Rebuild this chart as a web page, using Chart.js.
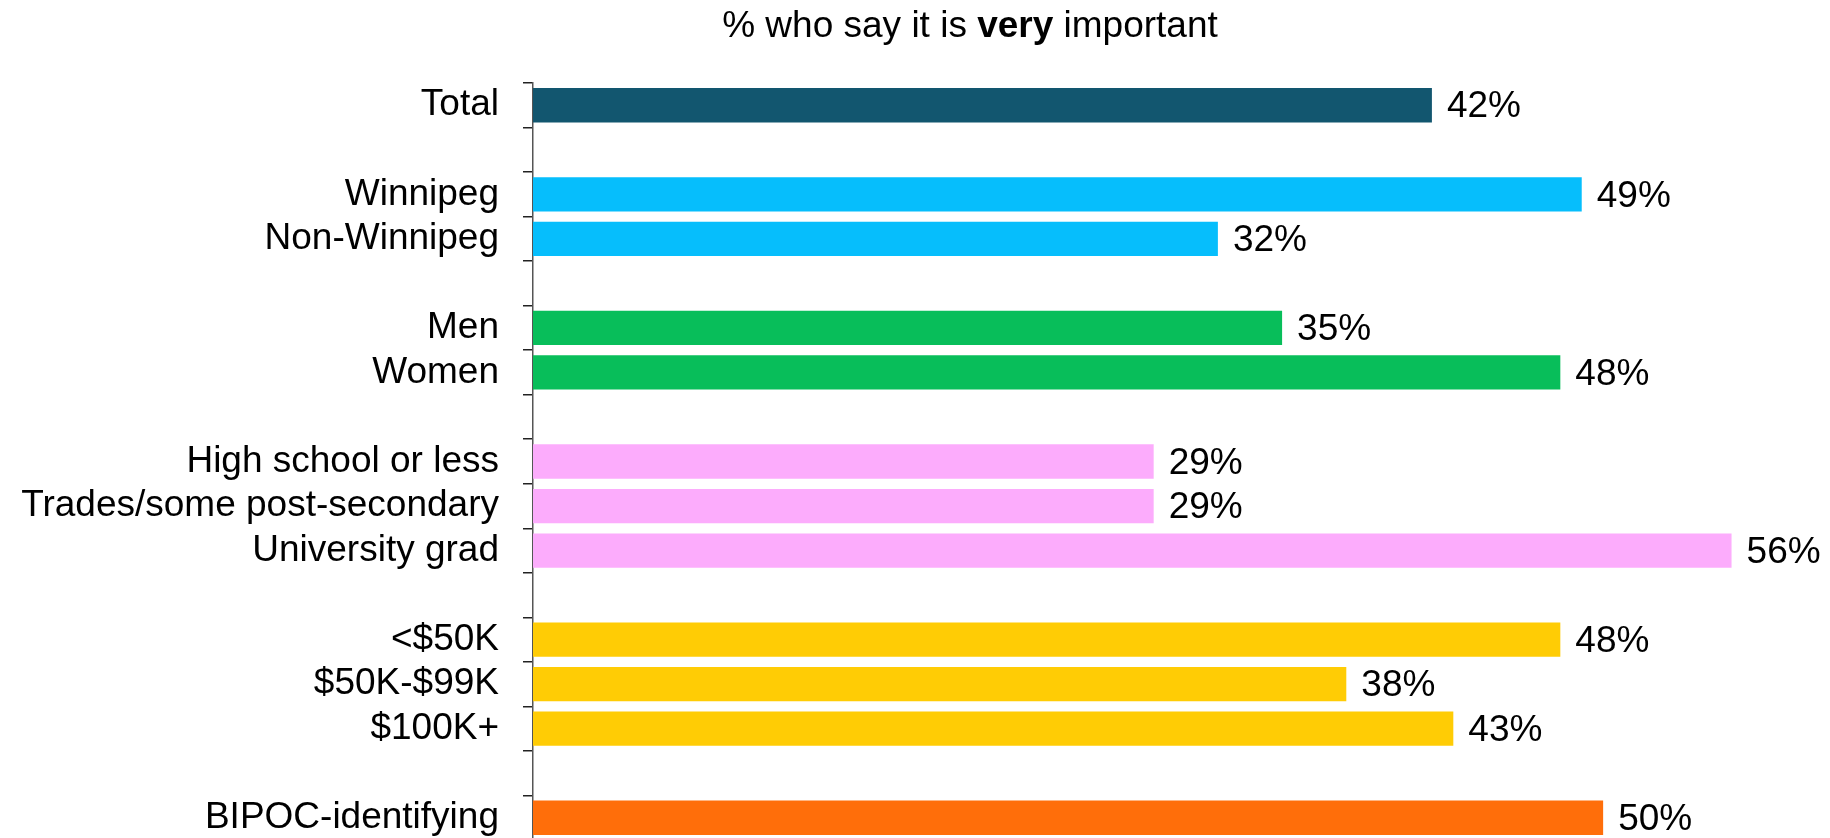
<!DOCTYPE html>
<html>
<head>
<meta charset="utf-8">
<script src="https://cdn.jsdelivr.net/npm/chart.js@4"></script>
<style>
  html, body { margin: 0; padding: 0; background: #fff; overflow: hidden; }
  #wrap { width: 1830px; height: 840px; position: relative; }
</style>
</head>
<body>
<div id="wrap"><canvas id="c"></canvas></div>
<script>
const categories = ['Total', '', 'Winnipeg', 'Non-Winnipeg', '', 'Men', 'Women', '',
  'High school or less', 'Trades/some post-secondary', 'University grad', '',
  '<$50K', '$50K-$99K', '$100K+', '', 'BIPOC-identifying'];
const values = [42, null, 49, 32, null, 35, 48, null, 29, 29, 56, null, 48, 38, 43, null, 50];
const groupOf = [0, null, 1, 1, null, 2, 2, null, 3, 3, 3, null, 4, 4, 4, null, 5];
const groupColors = ['#12566F', '#06BEFC', '#08BE5A', '#FCACFC', '#FFCC05', '#FF6E0A'];
const titleParts = [['% who say it is ', 'normal'], ['very', 'bold'], [' important', 'normal']];

const FONT = "'Liberation Sans', Arial, Helvetica, sans-serif";
const FS = 37;

const titlePlugin = {
  id: 'mixedTitle',
  afterDraw(chart) {
    const ctx = chart.ctx;
    ctx.save();
    ctx.fillStyle = '#000';
    ctx.textBaseline = 'alphabetic';
    ctx.textAlign = 'left';
    let total = 0;
    const widths = titleParts.map(([t, w]) => {
      ctx.font = w + ' ' + FS + 'px ' + FONT;
      const m = ctx.measureText(t).width;
      total += m;
      return m;
    });
    let x = 970 - total / 2;
    titleParts.forEach(([t, w], i) => {
      ctx.font = w + ' ' + FS + 'px ' + FONT;
      ctx.fillText(t, x, 37);
      x += widths[i];
    });
    ctx.restore();
  }
};

const valueLabels = {
  id: 'valueLabels',
  afterDatasetsDraw(chart) {
    const ctx = chart.ctx;
    const meta = chart.getDatasetMeta(0);
    ctx.save();
    ctx.font = FS + 'px ' + FONT;
    ctx.fillStyle = '#000';
    ctx.textAlign = 'left';
    ctx.textBaseline = 'middle';
    meta.data.forEach((el, i) => {
      const v = values[i];
      if (v === null || v === undefined) return;
      ctx.fillText(v + '%', el.x + 15, el.y + 2);
    });
    ctx.restore();
  }
};

new Chart(document.getElementById('c'), {
  type: 'bar',
  data: {
    labels: categories,
    datasets: [{
      data: values,
      backgroundColor: groupOf.map(g => g === null ? 'rgba(0,0,0,0)' : groupColors[g]),
      borderWidth: 0,
      barPercentage: 0.77,
      categoryPercentage: 1.0
    }]
  },
  options: {
    indexAxis: 'y',
    responsive: true,
    maintainAspectRatio: false,
    devicePixelRatio: 1,
    animation: false,
    layout: { padding: { top: 83, right: 0, bottom: 0, left: 0 } },
    plugins: { legend: { display: false }, title: { display: false }, tooltip: { enabled: false } },
    scales: {
      x: { display: false, min: 0, max: 60.6 },
      y: {
        afterFit(scale) { scale.width = 533; scale.paddingTop = 0; scale.paddingBottom = 0; },
        grid: { display: true, drawOnChartArea: false, drawTicks: true, tickLength: 10, color: '#222', lineWidth: 1.5, offset: true },
        border: { display: true, color: '#555', width: 1.5 },
        ticks: { color: '#000', font: { family: FONT, size: FS }, padding: 24, autoSkip: false }
      }
    }
  },
  plugins: [titlePlugin, valueLabels]
});
</script>
</body>
</html>
